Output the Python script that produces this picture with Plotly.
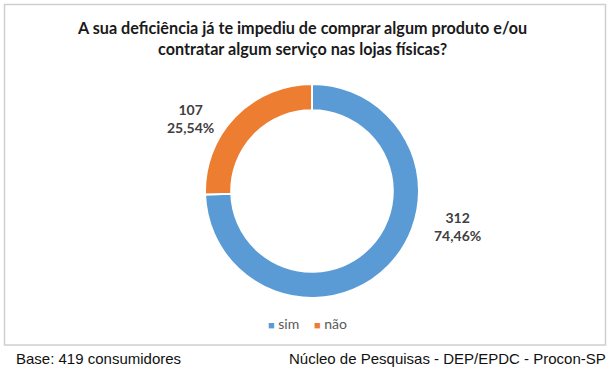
import plotly.graph_objects as go

categories = ["sim", "não"]
counts = [312, 107]
percents = ["74,46%", "25,54%"]
colors = ["#5B9BD5", "#ED7D31"]

title_text = "A sua deficiência já te impediu de comprar algum produto e/ou<br>contratar algum serviço nas lojas físicas?"
footer_left = "Base: 419 consumidores"
footer_right = "Núcleo de Pesquisas - DEP/EPDC - Procon-SP"

W, H = 615, 376
def px(x): return x / W
def py(y): return 1 - y / H

fig = go.Figure()
fig.add_trace(go.Pie(
    labels=categories, values=counts, hole=0.755, sort=False,
    direction="clockwise", rotation=0,
    marker=dict(colors=colors, line=dict(color="white", width=2)),
    textinfo="none", hoverinfo="label+value+percent",
    domain=dict(x=[px(205), px(419)], y=[py(298), py(84)]),
    showlegend=False,
))

label_pos = [(457, 226), (190, 118)]
for c, p, (x, y) in zip(counts, percents, label_pos):
    fig.add_annotation(x=px(x), y=py(y), xref="paper", yref="paper",
                       xanchor="center", yanchor="middle",
                       text=f"<b>{c}<br>{p}</b>", showarrow=False,
                       font=dict(family="Lato", size=14, color="#404040"),
                       align="center")

fig.add_annotation(x=px(302), y=py(37.5), xref="paper", yref="paper",
                   xanchor="center", yanchor="middle",
                   text=f"<b>{title_text}</b>", showarrow=False,
                   font=dict(family="Lato", size=16.2, color="#1a1a1a"),
                   align="center")

# legend drawn as text entries
legend_x = [266, 312]
for cat, col, x in zip(categories, colors, legend_x):
    fig.add_annotation(x=px(x), y=py(323), xref="paper", yref="paper",
                       xanchor="left", yanchor="middle", showarrow=False,
                       text=f"<span style='color:{col};font-size:11px'>■</span> {cat}",
                       font=dict(family="Lato", size=14, color="#595959"))

fig.add_annotation(x=px(14), y=py(358), xref="paper", yref="paper",
                   xanchor="left", yanchor="middle",
                   text=footer_left, showarrow=False,
                   font=dict(family="Liberation Sans", size=15, color="#111"))
fig.add_annotation(x=px(608), y=py(358), xref="paper", yref="paper",
                   xanchor="right", yanchor="middle",
                   text=footer_right, showarrow=False,
                   font=dict(family="Liberation Sans", size=15, color="#111"))

fig.add_shape(type="rect", xref="paper", yref="paper",
              x0=px(4.5), x1=px(605.5), y0=py(345), y1=py(4.5),
              line=dict(color="#cfcfcf", width=1.5), fillcolor="rgba(0,0,0,0)")

fig.update_layout(
    width=W, height=H, margin=dict(l=0, r=0, t=0, b=0),
    paper_bgcolor="white", plot_bgcolor="white",
    showlegend=False,
)

fig.write_html("out.html", config={"displayModeBar": False},
               post_script="document.body.style.margin='0';document.body.style.overflow='hidden';")
